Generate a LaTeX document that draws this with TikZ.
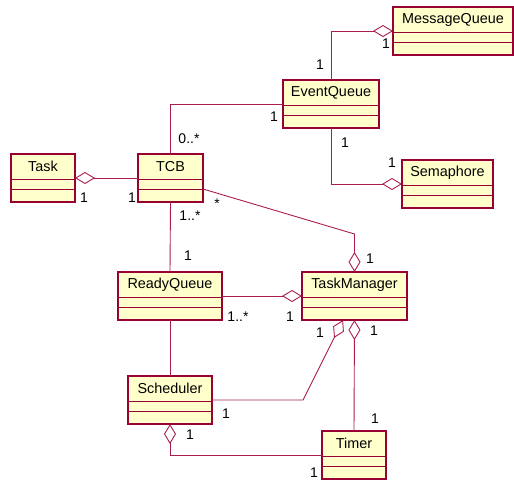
\documentclass[tikz,border=0pt]{standalone}
\usepackage{fontspec}
\setmainfont{Liberation Sans}
\usetikzlibrary{calc,arrows.meta}

\definecolor{umlborder}{RGB}{153,0,51}
\definecolor{umlline}{RGB}{170,30,75}
\definecolor{umlfill}{RGB}{255,255,204}

\tikzset{
  classbox/.style={draw=umlborder, fill=umlfill, line width=1.3pt,
                   inner sep=0pt, outer sep=0pt, minimum height=48pt},
  classname/.style={font=\fontsize{14.4}{14.4}\selectfont, inner sep=0pt},
  divider/.style={draw=umlborder, line width=1pt},
  assoc/.style={draw=umlline, line width=0.9pt},
  agg/.style={assoc, -{Diamond[open, length=20pt, width=12pt]}},
  aggrev/.style={assoc, {Diamond[open, length=20pt, width=12pt]}-},
  mult/.style={font=\fontsize{14}{14}\selectfont, inner sep=0pt},
}

% class box: name, left, top, width, title
\newcommand{\umlclass}[5]{%
  \node[classbox, minimum width=#4pt, anchor=north west] (#1) at (#2,#3) {};
  \node[classname] (#1-title) at ($(#1.north)+(0,12.5)$) {#5};
  \draw[divider] ($(#1.north west)+(0,25)$) -- ($(#1.north east)+(0,25)$);
  \draw[divider] ($(#1.north west)+(0,35)$) -- ($(#1.north east)+(0,35)$);
}

\begin{document}
\begin{tikzpicture}[x=1pt,y=-1pt]
\useasboundingbox (0,0) rectangle (514,480);

% classes
\umlclass{mq}{393}{7}{120}{MessageQueue}
\umlclass{eq}{283}{80}{96}{EventQueue}
\umlclass{task}{11}{154}{64}{Task}
\umlclass{tcb}{138}{154}{65}{TCB}
\umlclass{sem}{402}{160}{91}{Semaphore}
\umlclass{rq}{118}{272}{104}{ReadyQueue}
\umlclass{tm}{302}{272}{105}{TaskManager}
\umlclass{sch}{128}{376}{84}{Scheduler}
\umlclass{timer}{322}{431}{64}{Timer}

% helper points
\coordinate (tcbside) at ($(tcb.north east)+(0,35)$);
\coordinate (tmbend) at ($(tm.north)+(0,-38)$);
\coordinate (schbend) at ($(sch.east)+(91,0)$);
\coordinate (tmfoot) at ($(tm.south)+(-11.5,0)$);

% associations
\draw[agg] (eq.north) |- (mq.west);
\draw[agg] (eq.south) |- (sem.west);
\draw[assoc] (eq.west) -| (tcb.north);
\draw[aggrev] (task.east) -- (tcb.west);
\draw[assoc] (tcb.south) -- (rq.north);
\draw[agg] (tcbside) -- (tmbend) -- (tm.north);
\draw[agg] (rq.east) -- (tm.west);
\draw[assoc] (rq.south) -- (sch.north);
\draw[agg] (sch.east) -- (schbend) -- (tmfoot);
\draw[aggrev] (tm.south) -- (timer.north);
\draw[aggrev] (sch.south) |- (timer.west);

% multiplicities
\node[mult] (m1) at (320,65) {1};
\node[mult] (m2) at (386,44) {1};
\node[mult] (m3) at (274,117) {1};
\node[mult] (m4) at (189,139) {0..*};
\node[mult] (m5) at (345,143) {1};
\node[mult] (m6) at (392,163) {1};
\node[mult] (m7) at (84,198) {1};
\node[mult] (m8) at (132,198) {1};
\node[mult] (m9) at (217,204) {*};
\node[mult] (m10) at (190,216) {1..*};
\node[mult] (m11) at (188,256) {1};
\node[mult] (m12) at (370,259) {1};
\node[mult] (m13) at (238,317) {1..*};
\node[mult] (m14) at (290,317) {1};
\node[mult] (m15) at (320,333) {1};
\node[mult] (m16) at (374,331) {1};
\node[mult] (m17) at (226,414) {1};
\node[mult] (m18) at (190,435) {1};
\node[mult] (m19) at (375,419) {1};
\node[mult] (m20) at (314,472.5) {1};
\end{tikzpicture}
\end{document}
